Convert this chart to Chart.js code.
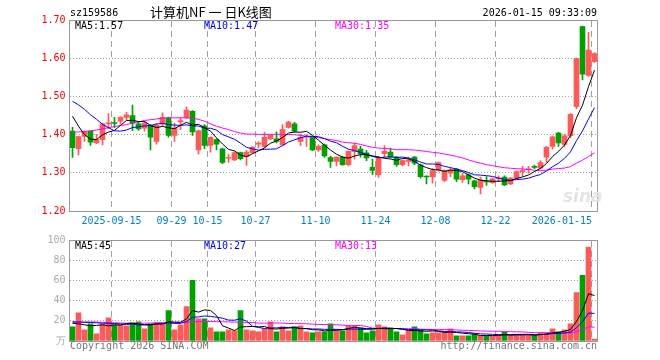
<!DOCTYPE html>
<html>
<head>
<meta charset="utf-8">
<script src="https://cdn.jsdelivr.net/npm/chart.js@4.4.1/dist/chart.umd.min.js"></script>
<style>
  body { margin: 0; background: #fff; width: 660px; height: 360px; position: relative; overflow: hidden;
         font-family: "DejaVu Sans Mono", monospace; font-size: 10px; }
  canvas { position: absolute; left: 0; }
  .t { position: absolute; white-space: pre; line-height: 12px; }
</style>
</head>
<body>
<canvas id="kline" width="660" height="232" style="top:0"></canvas>
<canvas id="vol" width="660" height="123" style="top:230px"></canvas>

<div class="t" style="left:70px;top:7px;color:#000">sz159586</div>
<div class="t" style="left:150px;top:4px;font:13px/15px 'Noto Sans CJK SC';color:#000">计算机NF 一 日K线图</div>
<div class="t" style="right:63px;top:7px;color:#000">2026-01-15 09:33:09</div>

<div class="t" id="pma5" style="left:75px;top:20px;color:#000"></div>
<div class="t" id="pma10" style="left:204px;top:20px;color:#0000ff"></div>
<div class="t" id="pma30" style="left:335px;top:20px;color:#ff00ff"></div>

<div class="t" id="vma5" style="left:75px;top:240px;color:#000"></div>
<div class="t" id="vma10" style="left:204px;top:240px;color:#0000ff"></div>
<div class="t" id="vma30" style="left:335px;top:240px;color:#ff00ff"></div>

<div class="t" style="left:563px;top:186px;font:italic bold 17px/20px 'DejaVu Sans';color:#e4e4e4">sina</div>
<div class="t" style="left:70px;top:340px;color:#777">Copyright 2026 SINA.COM</div>
<div class="t" style="right:63px;top:340px;color:#777">http://finance.sina.com.cn</div>

<script>
// trading days shown on the chart
const dates = [
  '2025-09-04','2025-09-05','2025-09-08','2025-09-09','2025-09-10','2025-09-11','2025-09-12','2025-09-15','2025-09-16','2025-09-17',
  '2025-09-18','2025-09-19','2025-09-22','2025-09-23','2025-09-24','2025-09-25','2025-09-26','2025-09-29','2025-09-30','2025-10-09',
  '2025-10-10','2025-10-13','2025-10-14','2025-10-15','2025-10-16','2025-10-17','2025-10-20','2025-10-21','2025-10-22','2025-10-23',
  '2025-10-24','2025-10-27','2025-10-28','2025-10-29','2025-10-30','2025-10-31','2025-11-03','2025-11-04','2025-11-05','2025-11-06',
  '2025-11-07','2025-11-10','2025-11-11','2025-11-12','2025-11-13','2025-11-14','2025-11-17','2025-11-18','2025-11-19','2025-11-20',
  '2025-11-21','2025-11-24','2025-11-25','2025-11-26','2025-11-27','2025-11-28','2025-12-01','2025-12-02','2025-12-03','2025-12-04',
  '2025-12-05','2025-12-08','2025-12-09','2025-12-10','2025-12-11','2025-12-12','2025-12-15','2025-12-16','2025-12-17','2025-12-18',
  '2025-12-19','2025-12-22','2025-12-23','2025-12-24','2025-12-25','2025-12-26','2025-12-29','2025-12-30','2025-12-31','2026-01-05',
  '2026-01-06','2026-01-07','2026-01-08','2026-01-09','2026-01-12','2026-01-13','2026-01-14','2026-01-15'
];

const opens = [
  1.409,1.363,1.395,1.409,1.378,1.387,1.428,1.431,1.435,1.445,
  1.450,1.428,1.417,1.424,1.382,1.428,1.444,1.398,1.433,1.444,
  1.461,1.360,1.422,1.372,1.387,1.363,1.338,1.334,1.353,1.343,
  1.353,1.375,1.369,1.389,1.389,1.373,1.419,1.428,1.382,1.393,
  1.393,1.360,1.373,1.340,1.330,1.341,1.321,1.356,1.362,1.352,
  1.314,1.295,1.350,1.354,1.341,1.321,1.330,1.341,1.321,1.291,
  1.289,1.308,1.280,1.299,1.310,1.282,1.295,1.279,1.262,1.278,
  1.274,1.284,1.289,1.271,1.286,1.303,1.308,1.316,1.312,1.341,
  1.369,1.404,1.374,1.397,1.473,1.683,1.555,1.591
];
const highs = [
  1.419,1.396,1.409,1.410,1.400,1.430,1.455,1.445,1.447,1.458,
  1.477,1.435,1.435,1.426,1.428,1.457,1.446,1.430,1.444,1.473,
  1.463,1.412,1.426,1.394,1.389,1.365,1.349,1.355,1.354,1.358,
  1.369,1.382,1.406,1.400,1.407,1.426,1.435,1.432,1.401,1.400,
  1.395,1.373,1.375,1.344,1.342,1.343,1.357,1.378,1.369,1.359,
  1.336,1.343,1.371,1.365,1.343,1.334,1.341,1.343,1.323,1.292,
  1.312,1.329,1.308,1.312,1.312,1.299,1.297,1.281,1.289,1.290,
  1.286,1.292,1.292,1.288,1.305,1.317,1.317,1.320,1.332,1.369,
  1.397,1.406,1.400,1.455,1.600,1.684,1.668,1.615
];
const lows = [
  1.340,1.347,1.382,1.372,1.376,1.373,1.417,1.418,1.428,1.439,
  1.410,1.411,1.409,1.360,1.375,1.422,1.393,1.382,1.413,1.442,
  1.398,1.349,1.363,1.354,1.360,1.324,1.327,1.332,1.334,1.319,
  1.351,1.366,1.365,1.387,1.378,1.372,1.417,1.406,1.372,1.369,
  1.358,1.356,1.340,1.314,1.318,1.319,1.318,1.336,1.341,1.332,
  1.295,1.288,1.341,1.339,1.317,1.318,1.318,1.321,1.286,1.271,
  1.273,1.304,1.277,1.290,1.277,1.275,1.271,1.258,1.245,1.267,
  1.272,1.277,1.266,1.269,1.284,1.292,1.299,1.311,1.310,1.327,
  1.362,1.369,1.369,1.391,1.468,1.543,1.552,1.589
];
const closes = [
  1.366,1.395,1.407,1.380,1.387,1.428,1.431,1.429,1.445,1.452,
  1.430,1.415,1.430,1.393,1.424,1.445,1.398,1.417,1.437,1.464,
  1.407,1.410,1.372,1.393,1.375,1.327,1.339,1.353,1.337,1.354,
  1.367,1.376,1.393,1.398,1.382,1.413,1.433,1.409,1.393,1.395,
  1.360,1.369,1.344,1.330,1.341,1.321,1.356,1.371,1.350,1.339,
  1.306,1.339,1.356,1.341,1.321,1.332,1.332,1.325,1.290,1.289,
  1.306,1.327,1.306,1.308,1.283,1.292,1.283,1.264,1.281,1.276,
  1.284,1.285,1.268,1.286,1.303,1.304,1.310,1.314,1.327,1.367,
  1.394,1.378,1.397,1.453,1.599,1.558,1.621,1.612
];
// volume, 万
const volumes = [
  14,28,11,17,7,17,23,16,16,15,
  18,19,12,17,18,18,30,11,16,34,
  60,22,22,13,9,9,11,10,30,11,
  10,9,12,19,9,14,10,14,15,9,
  8,9,9,17,11,10,15,15,13,8,
  10,16,14,13,9,6,10,14,11,7,
  8,8,9,12,5,5,5,7,5,5,
  5,6,9,6,6,6,6,6,8,8,
  12,9,11,17,48,65,93,2
];

// moving-average values at the left edge, where the window reaches before the first day shown
const priceMa5Head = [1.448, 1.422, 1.400, 1.388];
const priceMa10Head = [1.487, 1.478, 1.466, 1.452, 1.440, 1.427, 1.418, 1.410, 1.409];
const priceMa30Head = [1.406,1.407,1.408,1.410,1.412,1.415,1.418,1.421,1.424,1.426,1.430,1.433,1.437,1.439,1.441,
                       1.443,1.444,1.444,1.444,1.444,1.443,1.440,1.435,1.428,1.422,1.417,1.413,1.408,1.404];
const volMa5Head = [17.5, 17, 16, 15];
const volMa10Head = [19, 18.8, 18.5, 18.3, 18, 17.7, 17.5, 17.3, 17];
const volMa30Head = [18.5,18.7,18.8,18.9,18.8,18.5,18.2,18,17.8,17.6,17.5,17.5,17.6,17.8,18,
                     18.2,18.3,18.3,18.4,18.6,19,19.2,19.3,19.3,19.2,19,18.9,18.7,18.6];

// values printed in the MA legends
const priceMaNow = [1.57, 1.47, 1.35];
const volMaNow = [45, 27, 13];

const tickDays = ['2025-09-15','2025-09-29','2025-10-15','2025-10-27','2025-11-10','2025-11-24','2025-12-08','2025-12-22','2026-01-15'];
const tickText = ['2025-09-15','09-29','10-15','10-27','11-10','11-24','12-08','12-22','2026-01-15'];

const UP = '#ff5a5a', DOWN = '#00a000';
const GRID = '#a0a0a0';
const MONO = "'DejaVu Sans Mono', monospace";

function movingAvg(vals, n, head) {
  return vals.map((v, i) => {
    if (i < n - 1) return head[i];
    let s = 0;
    for (let k = i - n + 1; k <= i; k++) s += vals[k];
    return s / n;
  });
}

const candleColors = closes.map((c, i) => c >= opens[i] ? UP : DOWN);

document.getElementById('pma5').textContent = 'MA5:' + priceMaNow[0].toFixed(2);
document.getElementById('pma10').textContent = 'MA10:' + priceMaNow[1].toFixed(2);
document.getElementById('pma30').textContent = 'MA30:' + priceMaNow[2].toFixed(2);
document.getElementById('vma5').textContent = 'MA5:' + volMaNow[0];
document.getElementById('vma10').textContent = 'MA10:' + volMaNow[1];
document.getElementById('vma30').textContent = 'MA30:' + volMaNow[2];

Chart.defaults.font.family = MONO;
Chart.defaults.font.size = 10;

// x position of the dashed day line: left edge of the day's slot
function dayLineX(scale, day) {
  const i = dates.indexOf(day);
  const w = scale.getPixelForValue(1) - scale.getPixelForValue(0);
  return Math.floor(scale.getPixelForValue(i) - w / 2) + 0.5;
}

// dashed day lines, grey frame, and (price chart only) the day labels
function dayGrid(withLabels) {
  return {
    id: 'dayGrid',
    beforeDatasetsDraw(chart) {
      const { ctx, chartArea: a, scales: { x } } = chart;
      ctx.save();
      ctx.strokeStyle = GRID;
      ctx.lineWidth = 1;
      ctx.setLineDash([6, 4]);
      tickDays.forEach(d => {
        const px = dayLineX(x, d);
        ctx.beginPath();
        ctx.moveTo(px, Math.floor(a.top) + 1);
        ctx.lineTo(px, Math.floor(a.bottom));
        ctx.stroke();
      });
      ctx.restore();
    },
    afterDatasetsDraw(chart) {
      const { ctx, chartArea: a, scales: { x } } = chart;
      ctx.save();
      ctx.strokeStyle = '#999';
      ctx.lineWidth = 1;
      const l = Math.floor(a.left) + 0.5, t = Math.floor(a.top) + 0.5;
      ctx.strokeRect(l, t, Math.floor(a.right) - Math.floor(a.left), Math.floor(a.bottom) - Math.floor(a.top));
      if (withLabels) {
        ctx.font = '10px ' + MONO;
        ctx.fillStyle = '#0080cc';
        ctx.textBaseline = 'middle';
        tickDays.forEach((d, k) => {
          const px = dayLineX(x, d);
          const w = ctx.measureText(tickText[k]).width;
          const right = Math.floor(a.right) - 5;
          ctx.textAlign = px + w / 2 > right ? 'right' : 'center';
          ctx.fillText(tickText[k], ctx.textAlign === 'right' ? right : px, a.bottom + 10);
        });
      }
      ctx.restore();
    }
  };
}

function xAxis(height) {
  return {
    type: 'category',
    offset: true,
    grid: { display: false },
    border: { display: false },
    ticks: { display: false },
    afterFit: s => { s.height = height; }
  };
}

const lineStyle = { type: 'line', borderWidth: 1, pointRadius: 0, tension: 0, order: 0 };

new Chart(document.getElementById('kline'), {
  type: 'bar',
  data: {
    labels: dates,
    datasets: [
      { ...lineStyle, label: 'MA5', data: movingAvg(closes, 5, priceMa5Head), borderColor: '#000' },
      { ...lineStyle, label: 'MA10', data: movingAvg(closes, 10, priceMa10Head), borderColor: '#0000ff' },
      { ...lineStyle, label: 'MA30', data: movingAvg(closes, 30, priceMa30Head), borderColor: '#ff00ff' },
      {
        label: 'body', data: opens.map((o, i) => [o, closes[i]]),
        backgroundColor: candleColors, barThickness: 5, grouped: false, minBarLength: 1, order: 1
      },
      {
        label: 'wick', data: lows.map((l, i) => [l, highs[i]]),
        backgroundColor: candleColors, barThickness: 1, grouped: false, order: 2
      }
    ]
  },
  options: {
    responsive: false,
    animation: false,
    layout: { padding: { top: 20, right: 62.5, left: 0, bottom: 0 } },
    plugins: { legend: { display: false }, tooltip: { enabled: false } },
    scales: {
      x: xAxis(21),
      y: {
        min: 1.2, max: 1.7,
        grid: { drawTicks: false, color: GRID },
        border: { display: false, dash: [1, 2] },
        ticks: { stepSize: 0.1, padding: 4, color: '#ff0000', callback: v => v.toFixed(2) },
        afterFit: s => { s.width = 69.5; }
      }
    }
  },
  plugins: [dayGrid(true)]
});

new Chart(document.getElementById('vol'), {
  type: 'bar',
  data: {
    labels: dates,
    datasets: [
      { ...lineStyle, label: 'MA5', data: movingAvg(volumes, 5, volMa5Head), borderColor: '#000' },
      { ...lineStyle, label: 'MA10', data: movingAvg(volumes, 10, volMa10Head), borderColor: '#0000ff' },
      { ...lineStyle, label: 'MA30', data: movingAvg(volumes, 30, volMa30Head), borderColor: '#ff00ff' },
      { label: 'vol', data: volumes, backgroundColor: candleColors, barThickness: 5, grouped: false, order: 1 }
    ]
  },
  options: {
    responsive: false,
    animation: false,
    layout: { padding: { top: 10, right: 62.5, left: 0, bottom: 0 } },
    plugins: { legend: { display: false }, tooltip: { enabled: false } },
    scales: {
      x: xAxis(12),
      y: {
        min: 0, max: 100,
        grid: { drawTicks: false, color: GRID },
        border: { display: false, dash: [1, 2] },
        ticks: { stepSize: 20, padding: 4, color: '#aaaaaa', callback: v => v === 0 ? '万' : v },
        afterFit: s => { s.width = 69.5; }
      }
    }
  },
  plugins: [dayGrid(false)]
});
</script>
</body>
</html>
